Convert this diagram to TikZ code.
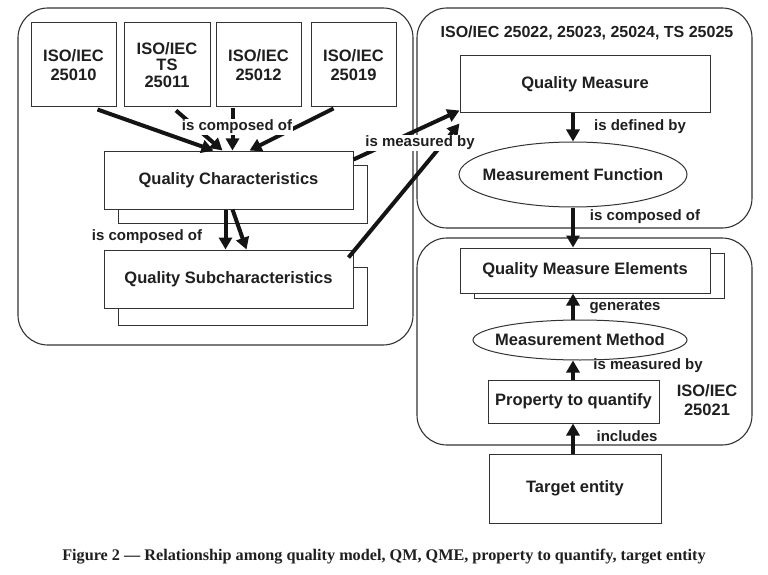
\documentclass[tikz,border=0pt]{standalone}
\usepackage{fontspec}
\setmainfont{Liberation Sans}
\newfontfamily\capfont{Liberation Serif}
\usetikzlibrary{arrows.meta,shapes.geometric,calc}
\begin{document}
\begin{tikzpicture}[x=1pt,y=-1pt,
  every node/.style={text=black!88, font=\bfseries\fontsize{16.5}{18.5}\selectfont},
  rbox/.style={draw=black!80, line width=1.1pt, rounded corners=30pt, inner sep=0pt},
  sbox/.style={draw=black!80, line width=1pt, fill=white, inner sep=0pt, align=center},
  ebox/.style={draw=black!80, line width=1pt, fill=white, ellipse, inner ysep=0pt, inner xsep=-10pt},
  lbl/.style={fill=white, inner sep=1pt, font=\bfseries\fontsize{15}{17}\selectfont},
  arr/.style={line width=4pt, draw=black!92, -{Triangle[width=13pt,length=12pt]}}]
\useasboundingbox (0,0) rectangle (768,575);
\fill[white] (0,0) rectangle (768,575);
% big rounded boxes
\node[rbox, minimum width=395pt, minimum height=337pt] (leftbox) at (215.5,176.5) {};
\node[rbox, minimum width=335pt, minimum height=220pt] (rtop) at (584.5,118) {};
\node[rbox, minimum width=335pt, minimum height=207pt] (rbot) at (584.5,341.5) {};
\node[font=\bfseries\fontsize{16}{18}\selectfont] (rtoptitle) at (587,33) {ISO/IEC 25022, 25023, 25024, TS 25025};
% ISO boxes
\node[sbox, minimum width=85pt, minimum height=84pt] (iso1) at (73.5,65) {ISO/IEC\\25010};
\node[sbox, minimum width=86pt, minimum height=84pt] (iso2) at (167,65) {ISO/IEC\\[-2pt]TS\\[-2pt]25011};
\node[sbox, minimum width=85pt, minimum height=84pt] (iso3) at (258.5,65) {ISO/IEC\\25012};
\node[sbox, minimum width=85pt, minimum height=84pt] (iso4) at (353.5,65) {ISO/IEC\\25019};
% quality characteristics
\node[sbox, minimum width=249pt, minimum height=58pt] (qcs) at (243,194) {};
\node[sbox, minimum width=249pt, minimum height=58pt] (qc) at (228.5,180) {Quality Characteristics};
\node[sbox, minimum width=249pt, minimum height=58pt] (qscs) at (243,296) {};
\node[sbox, minimum width=249pt, minimum height=58pt] (qsc) at (228.5,279) {Quality Subcharacteristics};
% right side
\node[sbox, minimum width=250pt, minimum height=57pt] (qm) at (585,84.5) {Quality Measure};
\node[ebox, minimum width=228pt, minimum height=65pt] (mf) at (573,174.5) {Measurement Function};
\node[sbox, minimum width=250pt, minimum height=45pt] (qmes) at (599,275.5) {};
\node[sbox, minimum width=250pt, minimum height=45pt] (qme) at (585,270.5) {Quality Measure Elements};
\node[ebox, minimum width=214pt, minimum height=40pt] (mm) at (580,340) {Measurement Method};
\node[sbox, minimum width=171pt, minimum height=43pt] (ptq) at (573.5,401.5) {Property to quantify};
\node[sbox, minimum width=172pt, minimum height=69pt] (te) at (575,488.5) {Target entity};
\node[align=center] (iso21) at (707,400) {ISO/IEC\\25021};
% arrows from ISO boxes
\draw[arr] ($(iso1.south)+(24,2)$) -- ($(qc.north)+(-15,0)$);
\draw[arr] ($(iso2.south)+(9,3)$) -- ($(qc.north)+(-6,0)$);
\draw[arr] ($(iso3.south)+(-26,1)$) -- ($(qc.north)+(4,0)$);
\draw[arr] ($(iso4.south)+(-20,1)$) -- ($(qc.north)+(21,0)$);
\node[lbl] (lcomp1) at (237,127) {is composed of};
% QC -> QSC
\draw[arr] ($(qc.south)+(-3,0)$) -- ($(qsc.north)+(-3,0)$);
\draw[arr] ($(qc.south)+(4,0)$) -- ($(qsc.north)+(18,0)$);
\node[lbl] (lcomp2) at (147,237) {is composed of};
% is measured by
\draw[arr] ($(qc.north east)+(0,9)$) -- ($(qm.south west)+(0,-3)$);
\draw[arr] ($(qsc.north east)+(-5,8)$) -- ($(qm.south west)+(0,10)$);
\node[lbl] (lmeas) at (420,143) {is measured by};
% right vertical arrows
\draw[arr] (qm.south -| mf.north) -- (mf.north);
\node[lbl, fill=none] (ldef) at (640,127) {is defined by};
\draw[arr] (mf.south) -- (mf.south |- qme.north);
\node[lbl, fill=none] (lcomp3) at (645,217) {is composed of};
\draw[arr] (mm.north -| mf.south) -- (qme.south -| mf.south);
\node[lbl, fill=none] (lgen) at (625,307) {generates};
\draw[arr] (ptq.north -| mf.south) -- (mm.south -| mf.south);
\node[lbl, fill=none] (lmeas2) at (648,366) {is measured by};
\draw[arr] (te.north -| mf.south) -- (ptq.south -| mf.south);
\node[lbl, fill=none] (linc) at (627,436) {includes};
% caption
\node[font=\capfont\bfseries\fontsize{16.2}{18}\selectfont] (caption) at (384,557) {Figure 2 — Relationship among quality model, QM, QME, property to quantify, target entity};
\end{tikzpicture}
\end{document}
